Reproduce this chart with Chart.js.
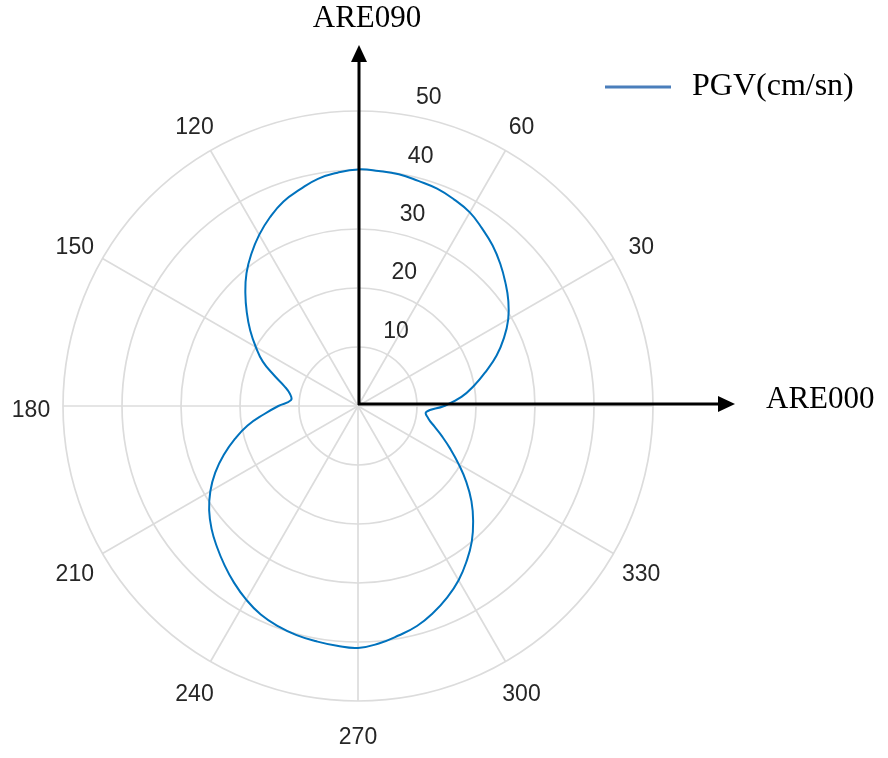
<!DOCTYPE html>
<html>
<head>
<meta charset="utf-8">
<title>PGV polar</title>
<script src="https://cdn.jsdelivr.net/npm/chart.js@4.4.1/dist/chart.umd.min.js"></script>
<style>
  html, body { margin: 0; padding: 0; background: #ffffff; }
  #wrap { position: relative; width: 888px; height: 758px; }
</style>
</head>
<body>
<div id="wrap"><canvas id="polar"></canvas></div>
<script>
// rotation angle (deg, counter-clockwise from ARE000)
const angles = [0, 5, 10, 15, 20, 25, 30, 35, 40, 45, 50, 55, 60, 65, 70, 75, 80, 85,
  90, 95, 100, 105, 110, 115, 120, 125, 130, 135, 140, 145, 150, 155, 160, 165, 170, 175,
  180, 185, 190, 195, 200, 205, 210, 215, 220, 225, 230, 235, 240, 245, 250, 255, 260, 265,
  270, 275, 280, 285, 290, 295, 300, 305, 310, 315, 320, 325, 330, 335, 340, 345, 350, 355];
// PGV (cm/sn)
const pgv = [14.6, 17.6, 20.0, 22.4, 25.0, 27.3, 29.4, 31.1, 32.6, 34.1, 35.5, 36.7, 37.9, 38.6, 39.2, 39.5, 39.9, 40.0,
  40.1, 39.7, 39.1, 38.0, 36.9, 35.3, 33.5, 31.5, 29.4, 27.0, 24.6, 22.3, 20.0, 17.8, 15.1, 12.9, 11.7, 11.4,
  13.5, 16.0, 19.0, 21.6, 24.2, 26.7, 28.9, 30.8, 32.4, 33.8, 35.2, 36.6, 37.9, 39.0, 39.7, 40.2, 40.5, 40.8,
  41.0, 40.4, 39.5, 38.6, 37.3, 35.8, 34.1, 32.1, 30.0, 27.6, 25.1, 22.4, 19.7, 17.3, 15.2, 13.4, 12.1, 11.6];
// axis labels
const angleTicks = [30, 60, 120, 150, 180, 210, 240, 270, 300, 330];
const radiusTicks = [10, 20, 30, 40, 50];

// radar goes clockwise, so walk the angles backwards starting at 0
const order = angles.map((a, i) => (i === 0 ? 0 : angles.length - i));
const chartLabels = order.map(k => angles[k]);
const chartData = order.map(k => pgv[k]);

const gridColor = "#dcdcdc";
const deg = Math.PI / 180;

const extras = {
  id: "extras",
  afterDraw(chart) {
    const ctx = chart.ctx;
    const scale = chart.scales.r;
    const cx = scale.xCenter;
    const cy = scale.yCenter;
    // screen position for a math angle (ccw from east) and a pixel distance
    const at = (a, d) => ({ x: cx + Math.cos(a * deg) * d, y: cy - Math.sin(a * deg) * d });
    ctx.save();

    // radius labels along 82 deg
    ctx.fillStyle = "#262626";
    ctx.font = "23px 'Liberation Sans', Arial, sans-serif";
    ctx.textAlign = "left";
    ctx.textBaseline = "middle";
    radiusTicks.forEach(v => {
      const p = at(82, scale.getDistanceFromCenterForValue(v));
      ctx.fillText(String(v), p.x + 17, p.y - 16);
    });

    // angle labels outside the outer ring
    ctx.textAlign = "center";
    angleTicks.forEach(a => {
      const p = at(a, scale.drawingArea + 32);
      ctx.fillText(String(a), p.x, p.y + 5);
    });

    // black component arrows (drawn by hand in the original, slightly off centre)
    const ax = cx + 1;
    const ay = cy - 2;
    ctx.strokeStyle = "#000000";
    ctx.fillStyle = "#000000";
    ctx.lineWidth = 3;
    ctx.beginPath();
    ctx.moveTo(ax, ay + 1);
    ctx.lineTo(ax, 60);
    ctx.moveTo(ax - 1, ay);
    ctx.lineTo(721, ay);
    ctx.stroke();
    ctx.beginPath();
    ctx.moveTo(ax, 45);
    ctx.lineTo(ax - 8, 62);
    ctx.lineTo(ax + 8, 62);
    ctx.closePath();
    ctx.fill();
    ctx.beginPath();
    ctx.moveTo(735, ay);
    ctx.lineTo(718, ay - 8);
    ctx.lineTo(718, ay + 8);
    ctx.closePath();
    ctx.fill();

    // component names
    ctx.font = "31px 'Liberation Serif', 'Times New Roman', serif";
    ctx.textBaseline = "alphabetic";
    ctx.textAlign = "center";
    ctx.fillText("ARE090", 367, 27);
    ctx.textAlign = "left";
    ctx.fillText("ARE000", 766, 408);

    // legend
    const ds = chart.data.datasets[0];
    ctx.strokeStyle = "#4a7ebb";
    ctx.lineWidth = 3;
    ctx.beginPath();
    ctx.moveTo(605, 87);
    ctx.lineTo(671, 87);
    ctx.stroke();
    ctx.font = "32px 'Liberation Serif', 'Times New Roman', serif";
    ctx.fillText(ds.label, 692, 95);

    ctx.restore();
  }
};

new Chart(document.getElementById("polar"), {
  type: "radar",
  data: {
    labels: chartLabels,
    datasets: [
      {
        label: "PGV(cm/sn)",
        data: chartData,
        borderColor: "#0072bd",
        backgroundColor: "#0072bd",
        borderWidth: 2,
        fill: false,
        tension: 0.45,
        pointRadius: 0,
        pointHoverRadius: 0,
      },
    ],
  },
  options: {
    responsive: true,
    maintainAspectRatio: false,
    animation: false,
    // square 590 px plot area centred on (358, 406)
    layout: { padding: { left: 63, right: 235, top: 111, bottom: 57 } },
    plugins: {
      legend: { display: false },
      tooltip: { enabled: false },
    },
    scales: {
      r: {
        min: 0,
        max: 50,
        startAngle: 90,
        ticks: { display: false, stepSize: 10 },
        pointLabels: { display: false },
        grid: { circular: true, color: gridColor, lineWidth: 1.7 },
        angleLines: {
          color: gridColor,
          lineWidth: c => (Number(c.label) % 30 === 0 ? 1.7 : 0),
        },
      },
    },
  },
  plugins: [extras],
});
</script>
</body>
</html>
